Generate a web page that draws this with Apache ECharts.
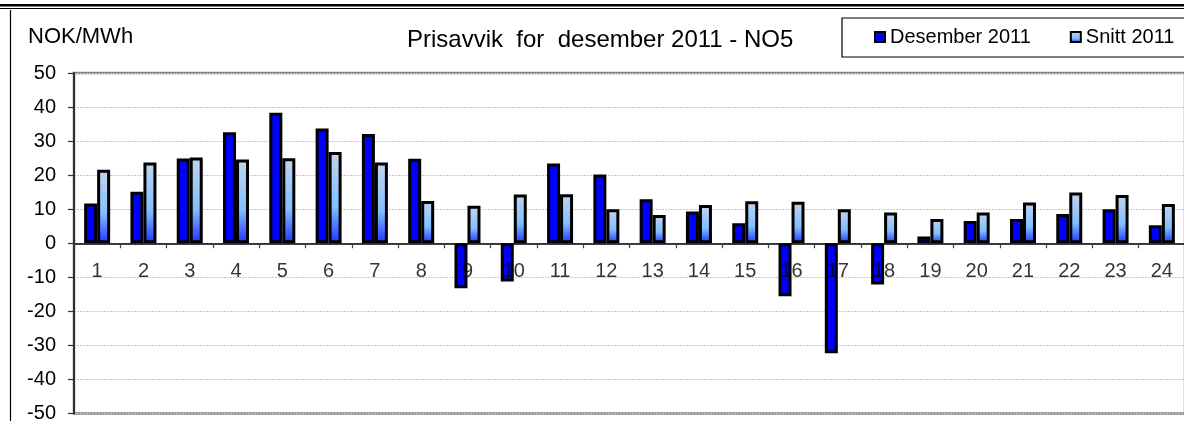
<!DOCTYPE html>
<html>
<head>
<meta charset="utf-8">
<script src="https://cdn.jsdelivr.net/npm/echarts@6/dist/echarts.min.js"></script>
<style>
html,body{margin:0;padding:0;background:#fff;}
#c{width:1184px;height:421px;}
</style>
</head>
<body>
<div id="c"></div>
<script>
const categories = ['1','2','3','4','5','6','7','8','9','10','11','12','13','14','15','16','17','18','19','20','21','22','23','24'];
const desember2011 = [11.7, 15.1, 24.9, 32.6, 38.3, 33.7, 32.1, 24.8, -13.2, -11.2, 23.4, 20.2, 12.9, 9.3, 5.9, -15.6, -32.3, -12.1, 2.0, 6.5, 7.1, 8.6, 10.0, 5.3];
const snitt2011 = [21.6, 23.7, 25.2, 24.6, 25.0, 26.8, 23.7, 12.4, 11.0, 14.3, 14.4, 10.0, 8.3, 11.2, 12.3, 12.2, 10.0, 9.0, 7.1, 9.0, 12.0, 14.9, 14.2, 11.5];
const seriesNames = ['Desember 2011', 'Snitt 2011'];
const titleText = 'Prisavvik  for  desember 2011 - NO5';
const unitText = 'NOK/MWh';

const FONT = "'Liberation Sans', Arial, sans-serif";
const chart = echarts.init(document.getElementById('c'), null, {renderer:'canvas'});
const lightGrad = new echarts.graphic.LinearGradient(0,0,0,1,[
  {offset:0,color:'#c4d4ec'},
  {offset:0.6,color:'#80c0ff'},
  {offset:1,color:'#2430ff'}
]);
chart.setOption({
  animation:false,
  backgroundColor:'#ffffff',
  title:{
    text:titleText, left:407, top:28, padding:0,
    textStyle:{fontFamily:FONT, fontSize:24, fontWeight:'normal', color:'#000'}
  },
  legend:{
    left:874, top:27, padding:0,
    itemWidth:10, itemHeight:10, itemGap:39,
    icon:'rect',
    textStyle:{fontFamily:FONT, fontSize:20, color:'#000'},
    data:seriesNames
  },
  graphic:[
    {type:'rect', shape:{x:0,y:4,width:1184,height:2.5}, style:{fill:'#000'}},
    {type:'rect', shape:{x:0,y:8,width:1184,height:1}, style:{fill:'#000'}},
    {type:'line', shape:{x1:10.5,y1:10,x2:10.5,y2:421}, style:{stroke:'#000',lineWidth:1.2}},
    {type:'rect', shape:{x:842,y:18,width:400,height:39}, style:{fill:'none',stroke:'#000',lineWidth:1.2}, z:-1},
    {type:'text', left:28, top:26, style:{text:unitText, font:'22px '+FONT, fill:'#000'}}
  ],
  grid:{left:74, top:73, width:1111, height:340.5, show:true, borderColor:'#808080', borderWidth:2.5, outerBoundsMode:'none'},
  xAxis:{
    type:'category', data:categories,
    axisLine:{onZero:true, lineStyle:{color:'#000', width:1.5}},
    axisTick:{show:true, length:5, interval:0, lineStyle:{color:'#404040', width:1.2}},
    axisLabel:{show:false},
    splitLine:{show:false}
  },
  yAxis:{
    type:'value', min:-50, max:50, interval:10,
    axisLine:{show:true, lineStyle:{color:'#303030', width:2}},
    axisTick:{show:true, inside:false, length:6, lineStyle:{color:'#303030', width:1.2}},
    axisLabel:{margin:18, fontFamily:FONT, fontSize:20, color:'#000'},
    splitLine:{show:true, lineStyle:{color:'#c4c4f4', width:1, type:[2,1]}}
  },
  series:[
    {name:seriesNames[0], type:'bar', data:desember2011, barWidth:13, barGap:'0%',
     itemStyle:{color:'#0000ff', borderColor:'#000', borderWidth:3}},
    {name:seriesNames[1], type:'bar', data:snitt2011, barWidth:13, barGap:'0%',
     itemStyle:{color:lightGrad, borderColor:'#000', borderWidth:3}},
    {name:'labels', type:'scatter', data:categories.map(c => [c, 0]), symbolSize:0, silent:true, z:10,
     label:{show:true, position:'bottom', distance:18, formatter:p => p.value[0],
       fontFamily:FONT, fontSize:20, color:'#000'}}
  ]
});
</script>
</body>
</html>
